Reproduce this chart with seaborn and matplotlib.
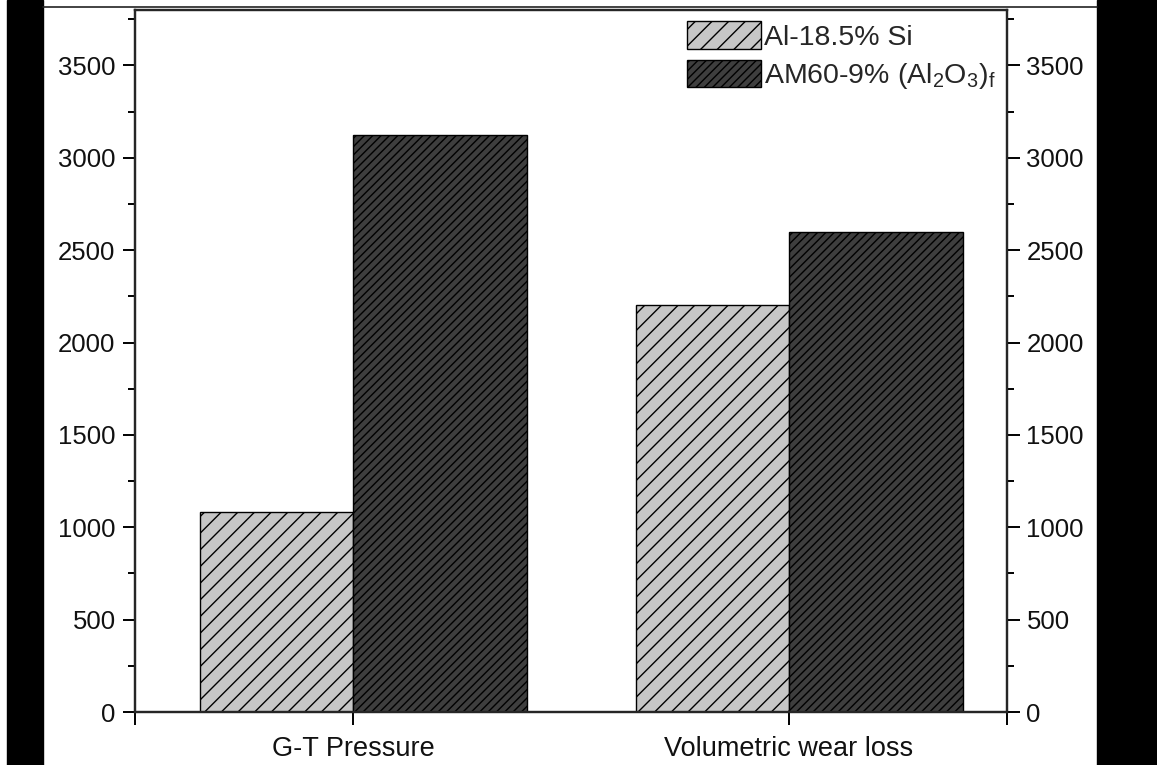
import matplotlib
matplotlib.use("Agg")
import matplotlib.pyplot as plt
from matplotlib.patches import Rectangle
from matplotlib.ticker import MultipleLocator
import pandas as pd
import seaborn as sns

categories = ["G-T Pressure", "Volumetric wear loss"]
series = ["Al-18.5% Si", "AM60-9% (Al$_2$O$_3$)$_f$"]
al_si = [1085, 2205]
am60 = [3125, 2600]

sns.set_style("ticks")
plt.rcParams["font.family"] = ["Liberation Sans", "DejaVu Sans"]
plt.rcParams["mathtext.default"] = "regular"
plt.rcParams["hatch.linewidth"] = 1.0

df = pd.DataFrame({
    "cat": categories * 2,
    "val": al_si + am60,
    "series": [series[0]] * 2 + [series[1]] * 2,
})

fig = plt.figure(figsize=(11.57, 7.65), dpi=100)
ax = fig.add_axes([135 / 1157, 1 - 712 / 765, 872 / 1157, 702 / 765])

sns.barplot(data=df, x="cat", y="val", hue="series", ax=ax,
            palette=["#c6c6c6", "#3e3e3e"], width=0.75,
            edgecolor="black", linewidth=1.0, saturation=1, legend=False)

# light bars sit left of the tick, dark ones right of it, dark a bit wider
hatches = ["//", "////"]
widths = [0.35, 0.40]
for i, cont in enumerate(ax.containers):
    for j, p in enumerate(cont.patches):
        p.set_hatch(hatches[i])
        p.set_width(widths[i])
        p.set_x(j - widths[i] if i == 0 else j)

ax.set_xlim(-0.5, 1.5)
ax.set_ylim(0, 3800)
ax.set_xticks([-0.5, 0, 1, 1.5])
ax.set_xticklabels(["", categories[0], categories[1], ""])
ax.set_xlabel("")
ax.set_ylabel("")
ax.yaxis.set_major_locator(MultipleLocator(500))
ax.yaxis.set_minor_locator(MultipleLocator(250))

ax2 = ax.twinx()
ax2.set_ylim(ax.get_ylim())
ax2.yaxis.set_major_locator(MultipleLocator(500))
ax2.yaxis.set_minor_locator(MultipleLocator(250))

for a in (ax, ax2):
    for s in a.spines.values():
        s.set_linewidth(1.6)
        s.set_visible(True)
    a.tick_params(which="major", direction="out", length=9, width=1.4,
                  labelsize=18.5, color="black", labelcolor="#111111", pad=5)
    a.tick_params(which="minor", direction="out", length=5, width=1.4,
                  color="black")
ax.tick_params(axis="x", labelsize=19.5, pad=8)

handles = [Rectangle((0, 0), 1, 1, facecolor=c, edgecolor="black",
                     hatch=h, linewidth=1.0)
           for c, h in zip(["#c6c6c6", "#3e3e3e"], hatches)]
leg = ax.legend(handles, series, loc="upper right", frameon=False,
                fontsize=20.5, handlelength=2.6, handleheight=1.1,
                handletextpad=0.12, labelspacing=0.32, borderaxespad=0.0,
                bbox_to_anchor=(1.0, 1.0))

# dark side strips and thin frame line of the original scan
fig.patches.append(Rectangle((7 / 1157, 0), 36 / 1157, 1, color="black",
                             transform=fig.transFigure, zorder=0))
fig.patches.append(Rectangle((1097 / 1157, 0), 60 / 1157, 1, color="black",
                             transform=fig.transFigure, zorder=0))
fig.lines.append(plt.Line2D([43 / 1157, 1097 / 1157], [1 - 7 / 765] * 2,
                            color="#222222", linewidth=1.2,
                            transform=fig.transFigure))

fig.savefig("out.png", dpi=100)
